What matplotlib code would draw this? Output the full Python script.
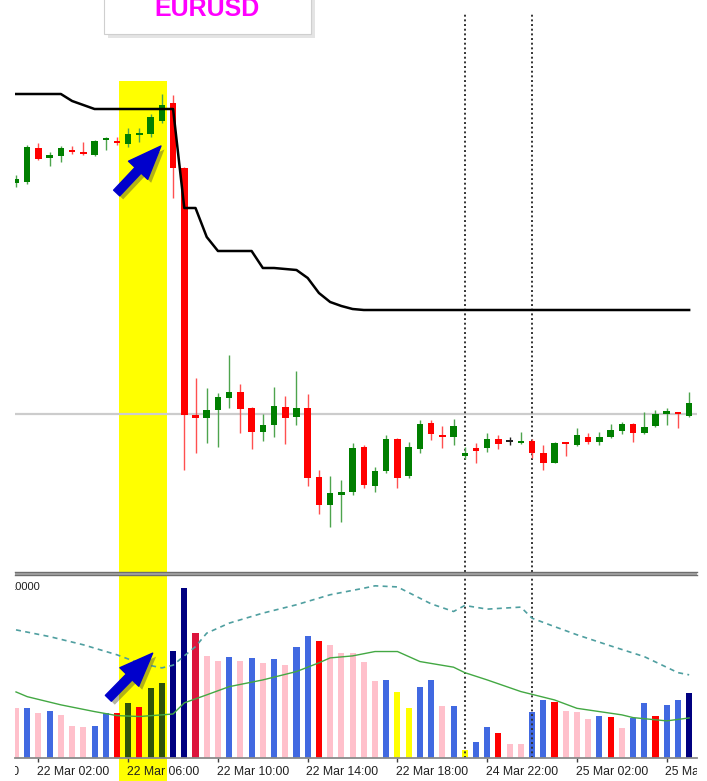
import matplotlib
matplotlib.use('Agg')
import matplotlib.pyplot as plt
import matplotlib.patheffects as pe
from matplotlib.patches import Rectangle, FancyArrowPatch
from matplotlib.lines import Line2D

W, H = 707, 781

# EURUSD, 30 minute bars
opens = [1.08417, 1.08418, 1.08452, 1.08442, 1.08444, 1.08450, 1.08448, 1.08445, 1.08460, 1.08458,
         1.08456, 1.08465, 1.08466, 1.08479, 1.08497, 1.08432, 1.08185, 1.08182, 1.08190, 1.08202,
         1.08208, 1.08192, 1.08168, 1.08175, 1.08193, 1.08183, 1.08192, 1.08123, 1.08095, 1.08105,
         1.08108, 1.08153, 1.08114, 1.08129, 1.08161, 1.08124, 1.08151, 1.08177, 1.08165, 1.08163,
         1.08144, 1.08152, 1.08152, 1.08161, 1.08158, 1.08157, 1.08159, 1.08147, 1.08137, 1.08157,
         1.08155, 1.08163, 1.08158, 1.08163, 1.08169, 1.08176, 1.08167, 1.08174, 1.08186, 1.08188,
         1.08184]
highs = [1.08425, 1.08455, 1.08457, 1.08448, 1.08454, 1.08454, 1.08458, 1.08460, 1.08463, 1.08463,
         1.08472, 1.08472, 1.08486, 1.08506, 1.08505, 1.08433, 1.08222, 1.08212, 1.08207, 1.08245,
         1.08216, 1.08193, 1.08186, 1.08213, 1.08204, 1.08229, 1.08206, 1.08130, 1.08124, 1.08120,
         1.08157, 1.08155, 1.08133, 1.08165, 1.08162, 1.08158, 1.08180, 1.08180, 1.08174, 1.08181,
         1.08153, 1.08157, 1.08167, 1.08165, 1.08163, 1.08168, 1.08161, 1.08155, 1.08158, 1.08158,
         1.08172, 1.08167, 1.08168, 1.08176, 1.08178, 1.08177, 1.08188, 1.08190, 1.08192, 1.08188,
         1.08208]
lows = [1.08413, 1.08416, 1.08440, 1.08434, 1.08438, 1.08446, 1.08445, 1.08444, 1.08450, 1.08455,
        1.08453, 1.08458, 1.08463, 1.08477, 1.08402, 1.08130, 1.08147, 1.08157, 1.08153, 1.08192,
        1.08167, 1.08151, 1.08159, 1.08163, 1.08156, 1.08175, 1.08114, 1.08086, 1.08073, 1.08078,
        1.08105, 1.08112, 1.08108, 1.08127, 1.08112, 1.08122, 1.08147, 1.08160, 1.08152, 1.08155,
        1.08141, 1.08137, 1.08148, 1.08151, 1.08155, 1.08156, 1.08142, 1.08130, 1.08137, 1.08144,
        1.08154, 1.08156, 1.08155, 1.08162, 1.08166, 1.08158, 1.08166, 1.08173, 1.08175, 1.08172,
        1.08183]
closes = [1.08421, 1.08453, 1.08441, 1.08445, 1.08452, 1.08448, 1.08446, 1.08459, 1.08462, 1.08457,
          1.08466, 1.08467, 1.08483, 1.08495, 1.08432, 1.08185, 1.08182, 1.08190, 1.08203, 1.08208,
          1.08191, 1.08168, 1.08175, 1.08194, 1.08182, 1.08192, 1.08122, 1.08095, 1.08107, 1.08108,
          1.08152, 1.08115, 1.08129, 1.08161, 1.08122, 1.08153, 1.08176, 1.08166, 1.08163, 1.08174,
          1.08147, 1.08149, 1.08161, 1.08156, 1.08158, 1.08159, 1.08147, 1.08137, 1.08157, 1.08156,
          1.08165, 1.08158, 1.08163, 1.08170, 1.08176, 1.08167, 1.08173, 1.08186, 1.08189, 1.08186,
          1.08197]

# black trailing line on the price chart
stop_line = [1.08506, 1.08506, 1.08506, 1.08506, 1.08506, 1.08499, 1.08495, 1.08491, 1.08491, 1.08491,
             1.08491, 1.08491, 1.08491, 1.08491, 1.08491, 1.08392, 1.08392, 1.08363, 1.08349, 1.08349,
             1.08349, 1.08349, 1.08332, 1.08332, 1.08331, 1.08330, 1.08322, 1.08307, 1.08298, 1.08294,
             1.08291, 1.08290, 1.08290, 1.08290, 1.08290, 1.08290, 1.08290, 1.08290, 1.08290, 1.08290,
             1.08290, 1.08290, 1.08290, 1.08290, 1.08290, 1.08290, 1.08290, 1.08290, 1.08290, 1.08290,
             1.08290, 1.08290, 1.08290, 1.08290, 1.08290, 1.08290, 1.08290, 1.08290, 1.08290, 1.08290,
             1.08290]
last_price = 1.08186

volumes = [2770, 2770, 2460, 2600, 2370, 1780, 1720, 1780, 2490, 2460,
           3040, 2820, 3870, 4140, 5890, 9330, 6890, 5630, 5350, 5540,
           5350, 5480, 5210, 5430, 5120, 6090, 6730, 6450, 6220, 5790,
           5780, 5260, 4240, 4290, 3630, 2770, 3920, 4290, 2880, 2880,
           440, 900, 1720, 1360, 750, 750, 2510, 3190, 3060, 2600,
           2510, 2150, 2310, 2260, 1630, 2220, 3040, 2330, 2920, 3190,
           3560]
volume_colors = ['pink', 'blue', 'pink', 'blue', 'pink', 'pink', 'pink', 'blue', 'blue', 'red',
                 'olive', 'red', 'olive', 'olive', 'navy', 'navy', 'crimson', 'pink', 'pink', 'blue',
                 'pink', 'blue', 'pink', 'blue', 'pink', 'blue', 'blue', 'red', 'pink', 'pink',
                 'pink', 'pink', 'pink', 'blue', 'yellow', 'yellow', 'blue', 'blue', 'pink', 'blue',
                 'yellow', 'blue', 'blue', 'red', 'pink', 'pink', 'blue', 'blue', 'red', 'pink',
                 'pink', 'pink', 'blue', 'red', 'pink', 'blue', 'blue', 'red', 'blue', 'blue',
                 'navy']
palette = {'pink': '#ffc0cb', 'blue': '#4169e1', 'red': '#ff0000', 'crimson': '#dc143c',
           'olive': '#2f520a', 'navy': '#000080', 'yellow': '#ffff00'}

ma_fast_idx = [0, 1, 4, 7, 9, 11, 13, 14, 15, 17, 19, 22, 25, 27, 28, 30, 32, 34, 36, 39,
               40, 42, 45, 48, 50, 54, 55, 58, 60]
ma_fast = [3630, 3370, 2920, 2550, 2330, 2280, 2370, 2420, 3030, 3470, 3920, 4290, 4750, 5230, 5500,
           5610, 5850, 5850, 5300, 4990, 4690, 4290, 3650, 3190, 2730, 2370, 2220, 2040, 2200]
ma_slow_idx = [0, 3, 6, 9, 11, 13, 14, 16, 17, 19, 22, 25, 28, 31, 32, 34, 37, 39, 40, 42,
               45, 46, 48, 50, 53, 56, 59, 60]
ma_slow = [7040, 6670, 6220, 5670, 5210, 4950, 5100, 6120, 6860, 7410, 7960, 8420, 8970, 9330,
           9460, 9400, 8470, 8050, 8380, 8180, 8290, 7680, 7220, 6770, 6160, 5570, 4690, 4570]

time_ticks = [-6, 2, 10, 18, 26, 34, 42, 50, 58]
time_labels = ['21 Mar 22:00', '22 Mar 02:00', '22 Mar 06:00', '22 Mar 10:00', '22 Mar 14:00',
               '22 Mar 18:00', '24 Mar 22:00', '25 Mar 02:00', '25 Mar 06:00']
period_lines = [40, 46]
highlight = (9.2, 13.5)
highlight_top = 1.08519
symbol = 'EURUSD'


def frame(left, top, right, bottom):
    return [left / W, 1 - bottom / H, (right - left) / W, (bottom - top) / H]


def fx(x):
    return x / W


def fy(y):
    return 1 - y / H


fig = plt.figure(figsize=(W / 100, H / 100), dpi=100)
fig.patch.set_facecolor('white')

ax = fig.add_axes(frame(15, 12, 697, 572))
axv = fig.add_axes(frame(15, 576, 697, 758))
axt = fig.add_axes(frame(15, 758, 697, 781))

xlim = (-0.09, 60.7)
for a in (ax, axv, axt):
    a.set_facecolor('none')
    for s in a.spines.values():
        s.set_visible(False)
    a.set_yticks([])

ax.set_xticks([])
axv.set_xticks([])
ax.set_ylim(1.08028, 1.08588)
axv.set_ylim(0, 10000)
axt.set_ylim(0, 1)

# time axis
axt.spines['top'].set_visible(True)
axt.spines['top'].set_color('#8a8a8a')
axt.spines['top'].set_linewidth(1.3)
axt.xaxis.tick_top()
axt.set_xticks(time_ticks)
axt.set_xticklabels([])
axt.tick_params(axis='x', direction='in', length=3, width=1, color='#404040')

for a in (ax, axv, axt):
    a.set_xlim(*xlim)

for t, lab in zip(time_ticks, time_labels):
    axt.text(t - 0.12, 0.39, lab, ha='left', va='center', fontsize=8.8, family='Liberation Sans',
             color='#202020', clip_on=True, zorder=3)

# highlighted bars
ax.add_patch(Rectangle((highlight[0], 1.08028), highlight[1] - highlight[0], highlight_top - 1.08028,
                       color='#ffff00', lw=0, zorder=0))
axv.axvspan(*highlight, color='#ffff00', lw=0, zorder=0)
axt.axvspan(*highlight, color='#ffff00', lw=0, zorder=0)

# price chart
ax.axhline(last_price, color='#cccccc', lw=1.6, zorder=1)
for p in period_lines:
    ax.axvline(p, color='#333333', lw=1.4, ls=(0, (1, 1.4)), zorder=2)
    axv.axvline(p, color='#333333', lw=1.4, ls=(0, (1, 1.4)), zorder=3)

bars = range(len(opens))
for i in bars:
    o, hi, lo, c = opens[i], highs[i], lows[i], closes[i]
    if c > o:
        body, wick = '#007f00', '#4ea44e'
    elif c < o:
        body, wick = '#ff0000', '#ff5050'
    else:
        body, wick = '#222222', '#222222'
    ax.vlines(i, lo, hi, color=wick, lw=1.0, zorder=4)
    ax.bar(i, max(abs(c - o), 0.000015), bottom=min(o, c), width=0.58, color=body, lw=0, zorder=5)

ax.plot(list(bars), stop_line, color='black', lw=1.8, zorder=6, solid_joinstyle='round')

# volume panel
axv.bar(list(bars), volumes, width=0.54, color=[palette[c] for c in volume_colors], lw=0, zorder=2)
axv.plot(ma_fast_idx, ma_fast, color='#43a843', lw=1.0, zorder=4)
axv.plot(ma_slow_idx, ma_slow, color='#4f9fa0', lw=1.2, ls=(0, (3, 2.6)), zorder=4)
axv.text((40 - 15) / 682, 1 - 6 / 182, '10000', transform=axv.transAxes, ha='right', va='top',
         fontsize=8, family='Liberation Sans', color='#202020', clip_on=True)

# arrows
style = 'simple,head_length=24,head_width=19,tail_width=6'
shadow = [pe.SimplePatchShadow(offset=(2.5, -2.5), shadow_rgbFace='#555533', alpha=0.45), pe.Normal()]
ax.add_patch(FancyArrowPatch((8.97, 1.08407), (12.92, 1.08454), arrowstyle=style, color='#0000cc',
                             shrinkA=0, shrinkB=0, zorder=7, path_effects=shadow))
axv.add_patch(FancyArrowPatch((8.23, 3280), (12.18, 5760), arrowstyle=style, color='#0000cc',
                              shrinkA=0, shrinkB=0, zorder=7, path_effects=shadow))

# separator between the windows
fig.add_artist(Rectangle((fx(15), fy(576.2)), fx(682), (576.2 - 571.6) / H, transform=fig.transFigure,
                         color='#a8a8a8', lw=0))
fig.add_artist(Line2D([fx(15), fx(697)], [fy(572.4), fy(572.4)], color='#6e6e6e', lw=1.0))
fig.add_artist(Line2D([fx(15), fx(697)], [fy(575.4), fy(575.4)], color='#6e6e6e', lw=1.0))

# symbol box
fig.add_artist(Rectangle((fx(108), fy(37.5)), fx(207), 45 / H, transform=fig.transFigure,
                         color='#e4e4e4', lw=0))
fig.add_artist(Rectangle((fx(104), fy(33.5)), fx(207), 45 / H, transform=fig.transFigure,
                         facecolor='white', edgecolor='#cfcfcf', lw=0.8))
fig.text(fx(207), fy(16.5), symbol, ha='center', va='baseline', fontsize=18, fontweight='bold',
         family='Liberation Sans', color='#ff00ff')

fig.savefig('out.png', dpi=100)
